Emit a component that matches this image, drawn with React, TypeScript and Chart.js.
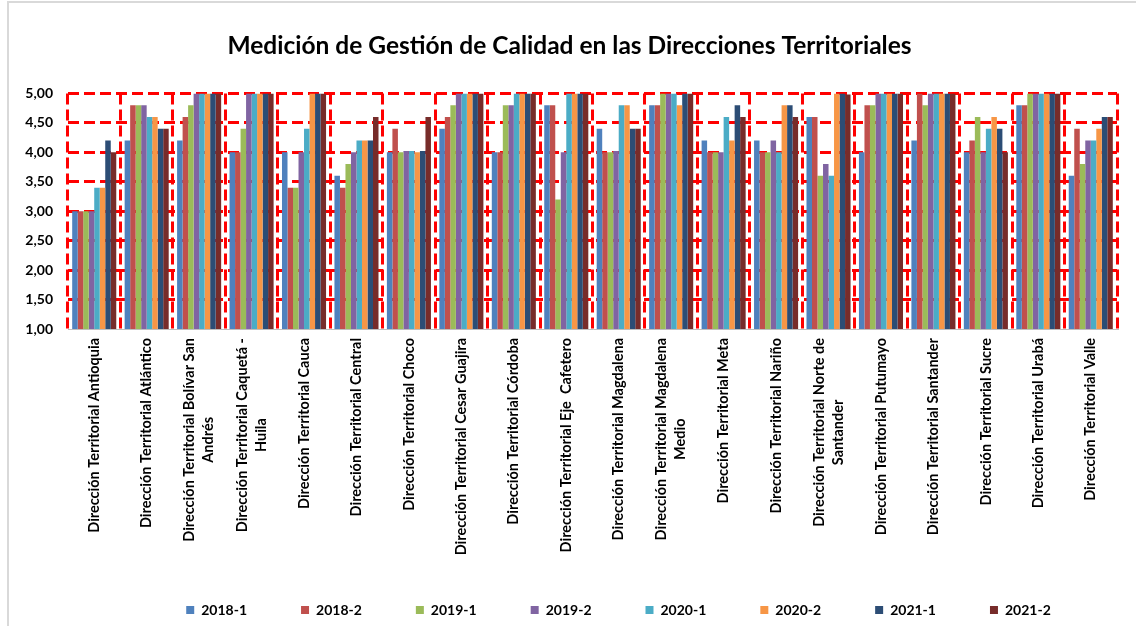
import React, { useEffect, useRef } from "react";
import { Chart, registerables } from "chart.js";

Chart.register(...registerables);

const categories: string[][] = [
  ["Dirección Territorial Antioquia"],
  ["Dirección Territorial Atlántico"],
  ["Dirección Territorial Bolívar San", "Andrés"],
  ["Dirección Territorial Caquetá -", "Huila"],
  ["Dirección Territorial Cauca"],
  ["Dirección Territorial Central"],
  ["Dirección Territorial Choco"],
  ["Dirección Territorial Cesar Guajira"],
  ["Dirección Territorial Córdoba"],
  ["Dirección Territorial Eje  Cafetero"],
  ["Dirección Territorial Magdalena"],
  ["Dirección Territorial Magdalena", "Medio"],
  ["Dirección Territorial Meta"],
  ["Dirección Territorial Nariño"],
  ["Dirección Territorial Norte de", "Santander"],
  ["Dirección Territorial Putumayo"],
  ["Dirección Territorial Santander"],
  ["Dirección Territorial Sucre"],
  ["Dirección Territorial Urabá"],
  ["Dirección Territorial Valle"],
];

const seriesNames = ["2018-1", "2018-2", "2019-1", "2019-2", "2020-1", "2020-2", "2021-1", "2021-2"];

const s2018_1 = [3.0, 4.2, 4.2, 4.0, 4.0, 3.6, 4.0, 4.4, 4.0, 4.8, 4.4, 4.8, 4.2, 4.2, 4.6, 4.0, 4.2, 4.0, 4.8, 3.6];
const s2018_2 = [3.0, 4.8, 4.6, 4.0, 3.4, 3.4, 4.4, 4.6, 4.0, 4.8, 4.0, 4.8, 4.0, 4.0, 4.6, 4.8, 5.0, 4.2, 4.8, 4.4];
const s2019_1 = [3.0, 4.8, 4.8, 4.4, 3.4, 3.8, 4.0, 4.8, 4.8, 3.2, 4.0, 5.0, 4.0, 4.0, 3.6, 4.8, 4.8, 4.6, 5.0, 3.8];
const s2019_2 = [3.0, 4.8, 5.0, 5.0, 4.0, 4.0, 4.02, 5.0, 4.8, 4.0, 4.02, 5.0, 4.0, 4.2, 3.8, 5.0, 5.0, 4.0, 5.0, 4.2];
const s2020_1 = [3.4, 4.6, 5.0, 5.0, 4.4, 4.2, 4.02, 5.0, 5.0, 5.0, 4.8, 5.0, 4.6, 4.0, 3.6, 5.0, 5.0, 4.4, 5.0, 4.2];
const s2020_2 = [3.4, 4.6, 5.0, 5.0, 5.0, 4.2, 4.0, 5.0, 5.0, 5.0, 4.8, 4.8, 4.2, 4.8, 5.0, 5.0, 5.0, 4.6, 5.0, 4.4];
const s2021_1 = [4.2, 4.4, 5.0, 5.0, 5.0, 4.2, 4.02, 5.0, 5.0, 5.0, 4.4, 5.0, 4.8, 4.8, 5.0, 5.0, 5.0, 4.4, 5.0, 4.6];
const s2021_2 = [4.0, 4.4, 5.0, 5.0, 5.0, 4.6, 4.6, 5.0, 5.0, 5.0, 4.4, 5.0, 4.6, 4.6, 4.98, 5.0, 5.0, 4.0, 5.0, 4.6];

const seriesValues = [s2018_1, s2018_2, s2019_1, s2019_2, s2020_1, s2020_2, s2021_1, s2021_2];
const seriesColors = ["#4F81BD", "#C0504D", "#9BBB59", "#8064A2", "#4BACC6", "#F79646", "#2C4D75", "#772C2A"];

const yTicks = [1, 1.5, 2, 2.5, 3, 3.5, 4, 4.5, 5];

const TITLE = "Medición de Gestión de Calidad en las Direcciones Territoriales";
const FONT = "Lato";
const LEGEND_PAD = 54;
const LEGEND_FONT = 14;

const xLabelPlugin = {
  id: "xLabels",
  afterDraw(chart: any) {
    const { ctx, chartArea } = chart;
    const xs = chart.scales.x;
    const labels = chart.data.labels as string[][];
    ctx.save();
    ctx.font = `bold 14.5px ${FONT}`;
    ctx.fillStyle = "#000";
    ctx.textAlign = "center";
    ctx.textBaseline = "middle";
    const lh = 19;
    labels.forEach((lines, i) => {
      const px = xs.getPixelForValue(i);
      const maxW = Math.max(...lines.map((l) => ctx.measureText(l).width));
      ctx.save();
      ctx.translate(px, chartArea.bottom + 9);
      ctx.rotate(-Math.PI / 2);
      lines.forEach((line, j) => {
        ctx.fillText(line, -maxW / 2, (j - (lines.length - 1) / 2) * lh);
      });
      ctx.restore();
    });
    ctx.restore();
  },
};

const boxShift = {
  id: "boxShift",
  afterLayout(chart: any) {
    if (chart.legend) {
      chart.legend.left += 26;
      chart.legend.right += 26;
      chart.legend.top += 1;
      chart.legend.bottom += 1;
    }
    if (chart.titleBlock) {
      chart.titleBlock.left += 11;
      chart.titleBlock.right += 11;
    }
  },
};

export default function App() {
  const ref = useRef<HTMLCanvasElement | null>(null);
  useEffect(() => {
    document.body.style.margin = "0";
    const canvas = ref.current!;
    const chart = new Chart(canvas, {
      type: "bar",
      data: {
        labels: categories,
        datasets: seriesNames.map((name, k) => ({
          label: name,
          data: seriesValues[k],
          backgroundColor: seriesColors[k],
          borderWidth: 0,
          categoryPercentage: 0.84,
          barPercentage: 1,
        })),
      },
      options: {
        responsive: false,
        animation: false,
        devicePixelRatio: 1,
        layout: { padding: { left: 0, right: 19, top: 0, bottom: 0 } },
        plugins: {
          title: {
            display: true,
            text: TITLE,
            color: "#000",
            font: { family: FONT, size: 24.5, weight: "bold" },
            padding: { top: 31, bottom: 33 },
          },
          legend: {
            position: "bottom",
            fullSize: false,
            labels: {
              boxWidth: 8,
              boxHeight: 8,
              padding: LEGEND_PAD,
              color: "#000",
              font: { family: FONT, size: LEGEND_FONT, weight: "bold" },
            },
          },
          tooltip: { enabled: false },
        },
        scales: {
          x: {
            type: "category",
            offset: true,
            grid: {
              display: true,
              offset: true,
              color: "#FF0000",
              lineWidth: 3,
              drawTicks: false,
              borderDash: [11, 5],
            } as any,
            border: { display: true, color: "#BFBFBF", width: 1, dash: [11, 5] },
            ticks: { display: false },
            afterFit: (scale: any) => {
              scale.height = 626 - (LEGEND_FONT + LEGEND_PAD + 10) - 329;
            },
          },
          y: {
            min: 1,
            max: 5,
            afterBuildTicks: (scale: any) => {
              scale.ticks = yTicks.map((v) => ({ value: v }));
            },
            grid: {
              color: (c: any) => (c.tick && c.tick.value === 1 ? "rgba(0,0,0,0)" : "#FF0000"),
              lineWidth: 3,
              drawTicks: false,
              borderDash: [11, 5],
            } as any,
            border: { display: false, dash: [11, 5] },
            ticks: {
              color: "#000",
              padding: 15,
              font: { family: FONT, size: 14, weight: "bold" },
              callback: (v: any) => Number(v).toFixed(2).replace(".", ","),
            },
            afterFit: (scale: any) => {
              scale.width = 68;
            },
          },
        },
      },
      plugins: [xLabelPlugin, boxShift],
    });
    return () => chart.destroy();
  }, []);

  return (
    <div style={{ position: "relative", width: 1136, height: 626, overflow: "hidden", background: "#fff" }}>
      <div
        style={{
          position: "absolute",
          left: 7,
          top: 1,
          width: 1150,
          height: 650,
          border: "2px solid #D9D9D9",
          boxSizing: "border-box",
        }}
      />
      <canvas ref={ref} width={1136} height={626} style={{ position: "absolute", left: 0, top: 0, display: "block" }} />
    </div>
  );
}
